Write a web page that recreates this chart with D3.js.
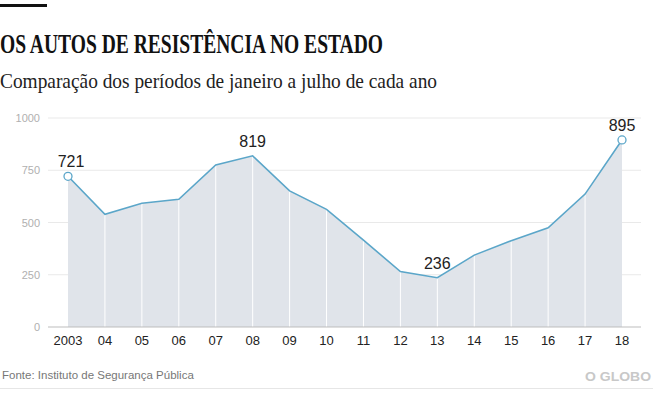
<!DOCTYPE html>
<html>
<head>
<meta charset="utf-8">
<script src="https://cdn.jsdelivr.net/npm/d3@7"></script>
<style>
  body { margin: 0; background: #fff; }
  svg { display: block; }
</style>
</head>
<body>
<svg></svg>
<script>
var width = 653;
var height = 393;

var years = ["2003", "04", "05", "06", "07", "08", "09", "10", "11", "12", "13", "14", "15", "16", "17", "18"];
var values = [721, 539, 592, 611, 775, 819, 651, 563, 416, 265, 236, 344, 413, 475, 636, 895];
var yTicks = [0, 250, 500, 750, 1000];
var labelled = ["2003", "08", "13", "18"];

var svg = d3.select("svg")
  .attr("width", width)
  .attr("height", height);

// header
svg.append("rect").attr("x", 0).attr("y", 4).attr("width", 47).attr("height", 3).attr("fill", "#111");

svg.append("text")
  .attr("x", 0).attr("y", 53)
  .attr("font-family", "Liberation Serif, serif")
  .attr("font-weight", "bold")
  .attr("font-size", 27)
  .attr("fill", "#111")
  .attr("textLength", 383)
  .attr("lengthAdjust", "spacingAndGlyphs")
  .text("OS AUTOS DE RESISTÊNCIA NO ESTADO");

svg.append("text")
  .attr("x", 0).attr("y", 88)
  .attr("font-family", "Liberation Serif, serif")
  .attr("font-size", 21)
  .attr("fill", "#222")
  .attr("textLength", 437)
  .attr("lengthAdjust", "spacingAndGlyphs")
  .text("Comparação dos períodos de janeiro a julho de cada ano");

var x = d3.scalePoint().domain(years).range([68, 622]);
var y = d3.scaleLinear().domain([0, 1000]).range([327, 118]);

var data = years.map((d, i) => ({ year: d, value: values[i] }));

// gridlines
svg.append("g")
  .selectAll("line")
  .data(yTicks.filter(d => d > 0))
  .enter()
  .append("line")
    .attr("x1", 48).attr("x2", 641)
    .attr("y1", d => y(d)).attr("y2", d => y(d))
    .attr("stroke", "#e9e9e9");

svg.append("g")
  .selectAll("text")
  .data(yTicks)
  .enter()
  .append("text")
    .attr("x", 40)
    .attr("y", d => y(d) + 4)
    .attr("text-anchor", "end")
    .attr("font-family", "Liberation Sans, Arial, sans-serif")
    .attr("font-size", 11)
    .attr("fill", "#b0b0b0")
    .text(d => d);

// area
var area = d3.area()
  .x(d => x(d.year))
  .y0(y(0))
  .y1(d => y(d.value));

svg.append("path")
  .datum(data)
  .attr("d", area)
  .attr("fill", "#e0e4ea");

// white verticals inside area
svg.append("g")
  .selectAll("line")
  .data(data.slice(1, -1))
  .enter()
  .append("line")
    .attr("x1", d => x(d.year)).attr("x2", d => x(d.year))
    .attr("y1", d => y(d.value)).attr("y2", y(0))
    .attr("stroke", "#fff")
    .attr("stroke-width", 1);

// baseline
svg.append("line")
  .attr("x1", 48).attr("x2", 641)
  .attr("y1", y(0)).attr("y2", y(0))
  .attr("stroke", "#bdbdbd");

var line = d3.line()
  .x(d => x(d.year))
  .y(d => y(d.value));

svg.append("path")
  .datum(data)
  .attr("d", line)
  .attr("fill", "none")
  .attr("stroke", "#5ba6c9")
  .attr("stroke-width", 1.6);

svg.append("g")
  .selectAll("circle")
  .data([data[0], data[data.length - 1]])
  .enter()
  .append("circle")
    .attr("cx", d => x(d.year))
    .attr("cy", d => y(d.value))
    .attr("r", 4)
    .attr("fill", "#fff")
    .attr("stroke", "#5ba6c9")
    .attr("stroke-width", 1.3);

svg.append("g")
  .selectAll("text")
  .data(data.filter(d => labelled.includes(d.year)))
  .enter()
  .append("text")
    .attr("x", d => x(d.year) + (d.year === "2003" ? 3 : 0))
    .attr("y", d => y(d.value) - 9)
    .attr("text-anchor", "middle")
    .attr("font-family", "Liberation Sans, Arial, sans-serif")
    .attr("font-size", 16)
    .attr("fill", "#222")
    .text(d => d.value);

// x labels
svg.append("g")
  .selectAll("text")
  .data(years)
  .enter()
  .append("text")
    .attr("x", d => x(d))
    .attr("y", 345)
    .attr("text-anchor", "middle")
    .attr("font-family", "Liberation Sans, Arial, sans-serif")
    .attr("font-size", 13)
    .attr("fill", "#222")
    .text(d => d);

// footer
svg.append("text")
  .attr("x", 2).attr("y", 379)
  .attr("font-family", "Liberation Sans, Arial, sans-serif")
  .attr("font-size", 11.5)
  .attr("fill", "#777")
  .text("Fonte: Instituto de Segurança Pública");

svg.append("text")
  .attr("x", 651).attr("y", 381)
  .attr("text-anchor", "end")
  .attr("font-family", "Liberation Sans, Arial, sans-serif")
  .attr("font-weight", "bold")
  .attr("font-size", 13)
  .attr("fill", "#c8c8c8")
  .attr("textLength", 66)
  .attr("lengthAdjust", "spacingAndGlyphs")
  .text("O GLOBO");

svg.append("line")
  .attr("x1", 0).attr("x2", 653)
  .attr("y1", 388.5).attr("y2", 388.5)
  .attr("stroke", "#e6e6e6");
</script>
</body>
</html>
